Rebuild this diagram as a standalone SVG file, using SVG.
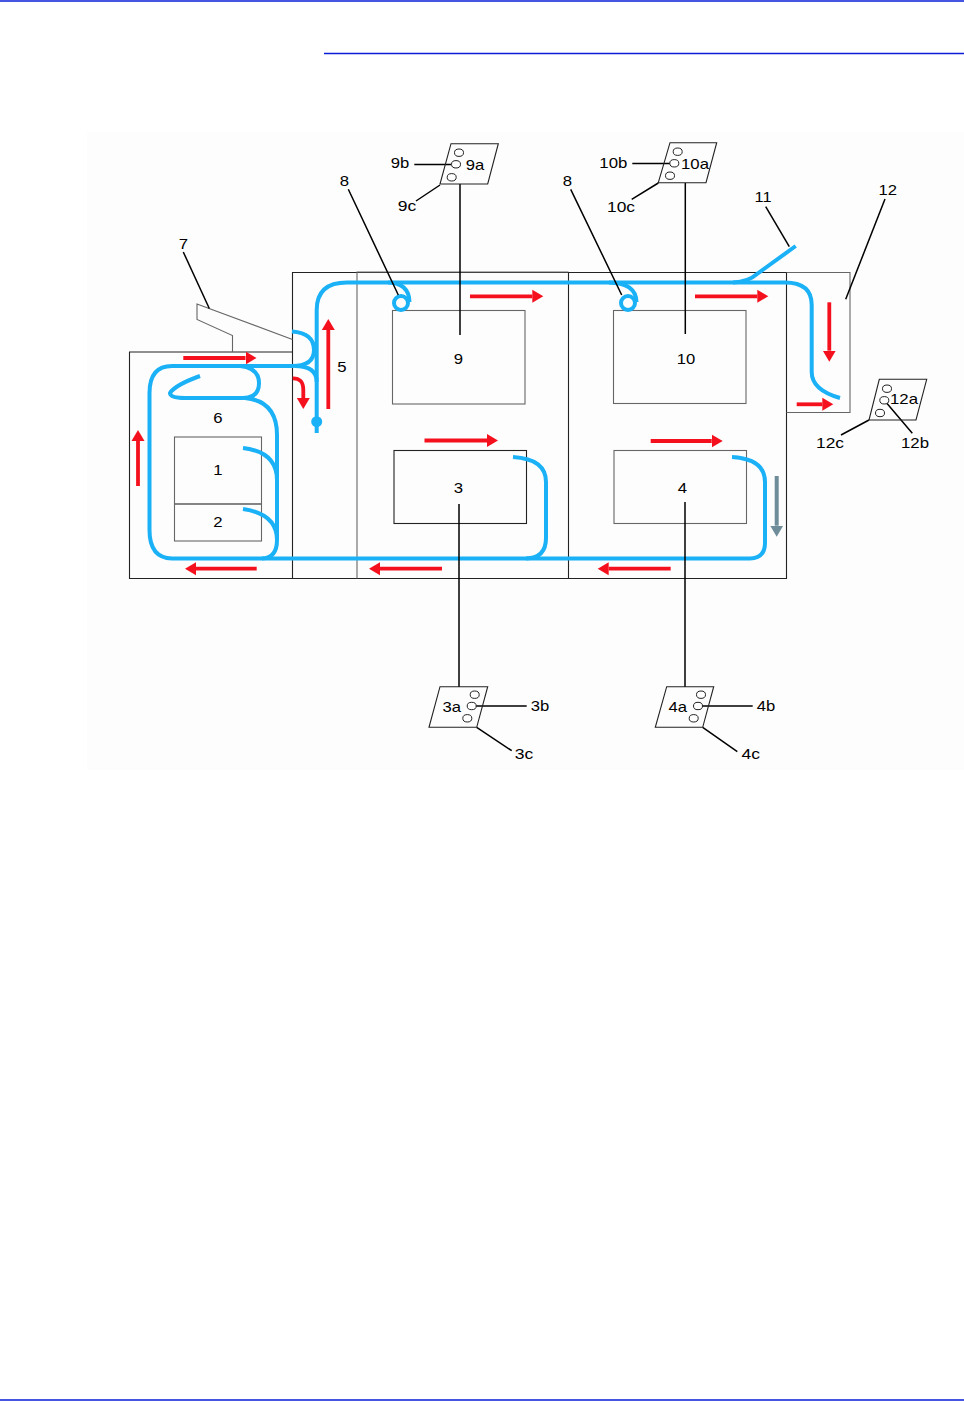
<svg xmlns="http://www.w3.org/2000/svg" width="964" height="1401" viewBox="0 0 964 1401">
<style>
.box{fill:none;stroke:#222;stroke-width:1.1}
.g{stroke:#666}
.panel{fill:none;stroke:#222;stroke-width:1.1}
.hole{fill:#fff;stroke:#222;stroke-width:1}
.lead{fill:none;stroke:#000;stroke-width:1.5}
.path{fill:none;stroke:#1ab1f7;stroke-width:4;stroke-linecap:butt}
.red{fill:none;stroke:#f5101e;stroke-width:3.8;marker-end:url(#ah)}
.grey{fill:none;stroke:#6f8c9a;stroke-width:4;marker-end:url(#ahg)}
.rule{stroke:#0a1ed8;stroke-width:1.4}
text{font-family:"Liberation Sans",Arial,sans-serif;font-size:15px;fill:#000;text-anchor:middle}
</style>
<defs>
<marker id="ah" markerUnits="userSpaceOnUse" markerWidth="13" markerHeight="14" refX="0" refY="7" orient="auto"><path d="M0 0.500L11 7L0 13.500z" fill="#f5101e"/></marker>
<marker id="ahg" markerUnits="userSpaceOnUse" markerWidth="13" markerHeight="14" refX="0" refY="7" orient="auto"><path d="M0 0.500L11 7L0 13.500z" fill="#6f8c9a"/></marker>
</defs>
<rect width="964" height="1401" fill="#fff"/>
<rect x="87" y="132" width="877" height="638" fill="#fdfdfd"/>
<g id="rules">
<line class="rule" x1="0" y1="1" x2="964" y2="1"/>
<line class="rule" x1="324" y1="53.500" x2="964" y2="53.500"/>
<line class="rule" x1="0" y1="1400" x2="964" y2="1400"/>
</g>
<g id="housing">
<path class="box" d="M292.500 352H129.500V578.500H786.500V272.500H292.500V578.500"/>
<path class="box g" d="M357 578.500V272H568.500"/>
<line class="box" x1="568.500" y1="272.500" x2="568.500" y2="578.500"/>
<path class="box g" d="M786.500 272.500H850V412.500H786.500"/>
<path class="box g" d="M292.500 339.500L197 304V319.500L232.500 335.500V352"/>
</g>
<g id="node-1"><rect class="box g" x="174.500" y="437" width="87" height="67"/><text x="218" y="475" textLength="9.300" lengthAdjust="spacingAndGlyphs">1</text></g>
<g id="node-2"><rect class="box g" x="174.500" y="504" width="87" height="37"/><text x="218" y="527" textLength="9.300" lengthAdjust="spacingAndGlyphs">2</text></g>
<g id="node-3"><rect class="box" x="394" y="450.500" width="132.500" height="73"/><text x="458.500" y="493" textLength="9.300" lengthAdjust="spacingAndGlyphs">3</text></g>
<g id="node-4"><rect class="box g" x="614" y="450.500" width="132.500" height="73"/><text x="682.500" y="493" textLength="9.300" lengthAdjust="spacingAndGlyphs">4</text></g>
<g id="node-9"><rect class="box g" x="392.500" y="310.500" width="132.500" height="93.500"/><text x="458.500" y="363.500" textLength="9.300" lengthAdjust="spacingAndGlyphs">9</text></g>
<g id="node-10"><rect class="box g" x="613.500" y="310.500" width="132.500" height="93"/><text x="686" y="363.500" textLength="18.500" lengthAdjust="spacingAndGlyphs">10</text></g>
<g id="connectors">
<g id="paper-paths">
<path class="path" d="M292 366H172Q149.500 366 149.500 393V530Q149.500 558 172 558.500H750Q765 558 765 543V482Q765 459 732 457"/>
<path class="path" d="M526 558.500Q546 558 546 538V482Q546 459 513 457"/>
<path class="path" d="M240 366Q259 368 259 383Q259 398 243 398H185Q170 398 170 393Q175 385 200 376"/>
<path class="path" d="M245 398Q277 401 277 435V540Q277 558 262 558.500"/>
<path class="path" d="M243 448Q277 452 277 480"/>
<path class="path" d="M243 509Q277 514 277 540"/>
<path class="path" d="M316.700 433V310Q316.700 282.500 347 282.500H785Q811.700 282.500 811.700 305V372Q811.700 390 840 398"/>
<path class="path" d="M292 331.500Q314 333 314 350Q314 366 292 366"/>
<path class="path" d="M295 366Q316.700 366 316.700 382"/>
<path class="path" d="M733 282.500Q748 282 757 274L795.700 246"/>
<circle cx="316.700" cy="421.700" r="5.500" fill="#1ab1f7"/>
<circle class="path" cx="401" cy="303" r="7"/>
<path class="path" d="M388 282.500Q409 283 409.500 302"/>
<circle class="path" cx="628" cy="303" r="7"/>
<path class="path" d="M609 282.500Q636 283 636.500 302"/>
</g>
<g id="leaders">
<path class="lead" d="M183.300 252L209.300 308.500"/>
<path class="lead" d="M348.300 189.300L398.300 295M570.700 189.300L621.700 295"/>
<path class="lead" d="M460 184V335M685.300 183V334M459 504V687M685 502V687"/>
<path class="lead" d="M414.300 164.500H451M440 185L416 201"/>
<path class="lead" d="M632.300 163.500H670M658.300 183L631.700 199.300"/>
<path class="lead" d="M765.700 206.700L789.300 246.700"/>
<path class="lead" d="M885 199L845.700 299.300"/>
<path class="lead" d="M884.500 400.500L912.300 433.300M869 420L841 435"/>
<path class="lead" d="M476 706H526.700M476.700 727.300L511.700 750.700"/>
<path class="lead" d="M702 706H752.700M702.700 727.300L737.300 751.700"/>
</g>
<g id="flow-arrows">
<path class="red" d="M183.300 358H245.500"/>
<path class="red" d="M138 486V441"/>
<path class="red" d="M256.700 568.700H196"/>
<path class="red" d="M328.300 409V330"/>
<path class="red" d="M292.700 378.300Q303.300 378 303.300 390V398"/>
<path class="red" d="M442 568.700H380"/>
<path class="red" d="M670.700 568.700H608.700"/>
<path class="red" d="M470 296.300H532.300"/>
<path class="red" d="M695 296.300H757.300"/>
<path class="red" d="M829.300 302.300V350.700"/>
<path class="red" d="M796.700 404.300H822.300"/>
<path class="red" d="M424.500 440.500H487"/>
<path class="red" d="M650.700 441H711.700"/>
<path class="grey" d="M776.700 476V525.700"/>
</g>
</g>
<g id="panel-9">
<path class="panel g" d="M451 143.700H498.300L487.700 184H440z"/>
<ellipse class="hole" cx="459" cy="152.700" rx="4.500" ry="3.700"/><ellipse class="hole" cx="456" cy="164.300" rx="4.500" ry="3.700"/><ellipse class="hole" cx="451.700" cy="177.300" rx="4.500" ry="3.700"/>
<text x="475" y="170" textLength="18.500" lengthAdjust="spacingAndGlyphs">9a</text>
<text x="400" y="168" textLength="18.500" lengthAdjust="spacingAndGlyphs">9b</text>
<text x="407" y="211" textLength="18.500" lengthAdjust="spacingAndGlyphs">9c</text>
</g>
<g id="panel-10">
<path class="panel g" d="M670 142.700H716.700L706 182.700H658.300z"/>
<ellipse class="hole" cx="677.700" cy="151.700" rx="4.500" ry="3.700"/><ellipse class="hole" cx="674.300" cy="163.300" rx="4.500" ry="3.700"/><ellipse class="hole" cx="670" cy="175.700" rx="4.500" ry="3.700"/>
<text x="695" y="169" textLength="28" lengthAdjust="spacingAndGlyphs">10a</text>
<text x="613.300" y="168" textLength="28" lengthAdjust="spacingAndGlyphs">10b</text>
<text x="621" y="212" textLength="28" lengthAdjust="spacingAndGlyphs">10c</text>
</g>
<g id="panel-12">
<path class="panel g" d="M879.300 379.300H926.700L916 420H869z"/>
<ellipse class="hole" cx="887" cy="388.700" rx="4.500" ry="3.700"/><ellipse class="hole" cx="884.300" cy="400.300" rx="4.500" ry="3.700"/><ellipse class="hole" cx="880" cy="413" rx="4.500" ry="3.700"/>
<text x="904" y="404" textLength="28" lengthAdjust="spacingAndGlyphs">12a</text>
<text x="915" y="448" textLength="28" lengthAdjust="spacingAndGlyphs">12b</text>
<text x="830" y="448" textLength="28" lengthAdjust="spacingAndGlyphs">12c</text>
</g>
<g id="panel-3">
<path class="panel g" d="M440 686.700H487.700L476.700 727.300H429z"/>
<ellipse class="hole" cx="474.700" cy="694.700" rx="4.500" ry="3.700"/><ellipse class="hole" cx="471.700" cy="706" rx="4.500" ry="3.700"/><ellipse class="hole" cx="467.300" cy="718.300" rx="4.500" ry="3.700"/>
<text x="451.700" y="712" textLength="18.500" lengthAdjust="spacingAndGlyphs">3a</text>
<text x="540" y="711" textLength="18.500" lengthAdjust="spacingAndGlyphs">3b</text>
<text x="524" y="759" textLength="18.500" lengthAdjust="spacingAndGlyphs">3c</text>
</g>
<g id="panel-4">
<path class="panel g" d="M666.700 686.700H713.700L702.700 727.300H655.300z"/>
<ellipse class="hole" cx="701" cy="694.700" rx="4.500" ry="3.700"/><ellipse class="hole" cx="698" cy="706" rx="4.500" ry="3.700"/><ellipse class="hole" cx="693.700" cy="718.300" rx="4.500" ry="3.700"/>
<text x="677.700" y="712" textLength="18.500" lengthAdjust="spacingAndGlyphs">4a</text>
<text x="766" y="711" textLength="18.500" lengthAdjust="spacingAndGlyphs">4b</text>
<text x="750.700" y="759" textLength="18.500" lengthAdjust="spacingAndGlyphs">4c</text>
</g>
<g id="labels">
<text x="342" y="372" textLength="9.300" lengthAdjust="spacingAndGlyphs">5</text>
<text x="218" y="423" textLength="9.300" lengthAdjust="spacingAndGlyphs">6</text>
<text x="183.500" y="249" textLength="9.300" lengthAdjust="spacingAndGlyphs">7</text>
<text x="344.500" y="186" textLength="9.300" lengthAdjust="spacingAndGlyphs">8</text>
<text x="567.500" y="186" textLength="9.300" lengthAdjust="spacingAndGlyphs">8</text>
<text x="763" y="202" textLength="17" lengthAdjust="spacingAndGlyphs">11</text>
<text x="887.700" y="195" textLength="18.500" lengthAdjust="spacingAndGlyphs">12</text>
</g>
</svg>
